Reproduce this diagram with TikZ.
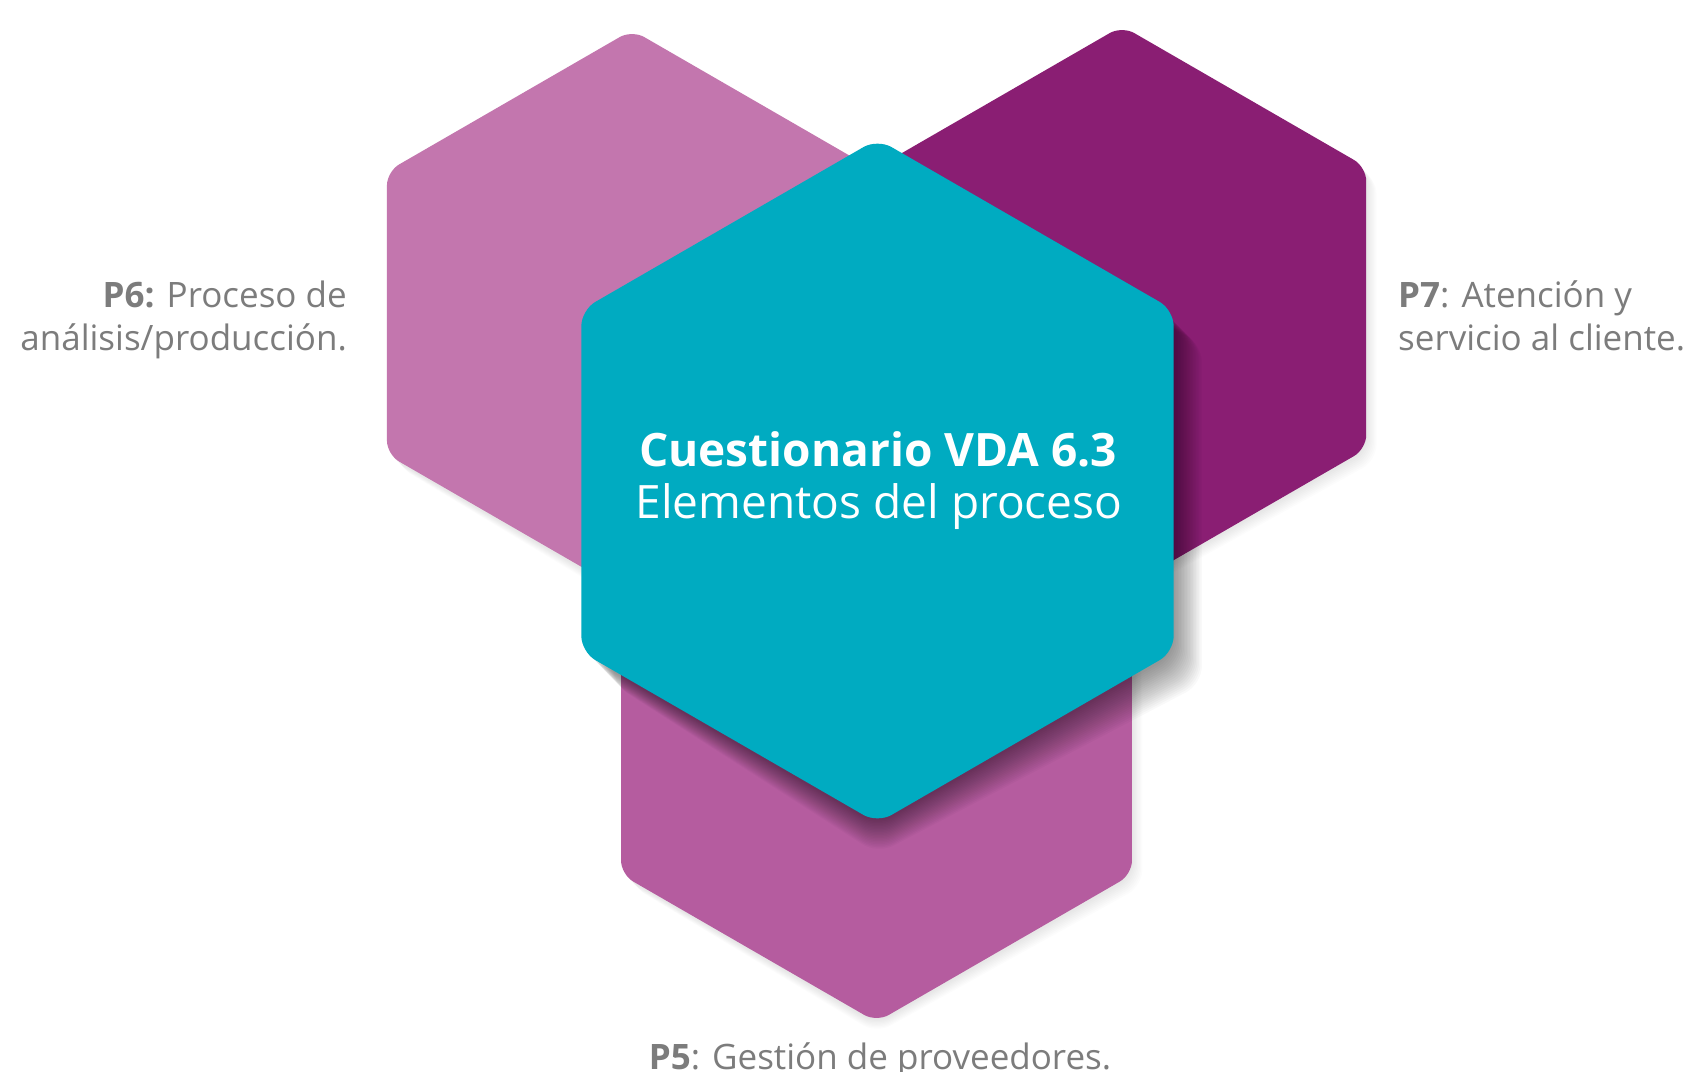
\documentclass[tikz,border=0pt]{standalone}
\usepackage{fontspec}
\setmainfont{Open Sans}
\definecolor{hexpink}{HTML}{C376AE}
\definecolor{hexpurple}{HTML}{8A1E73}
\definecolor{hexteal}{HTML}{00ABC1}
\definecolor{hexmauve}{HTML}{B55C9F}
\definecolor{labelgray}{HTML}{7C7C7C}
\newcommand{\hexpath}[3]{(#1,{#2-#3}) -- ({#1+0.8660254*#3},{#2-0.5*#3}) -- ({#1+0.8660254*#3},{#2+0.5*#3}) -- (#1,{#2+#3}) -- ({#1-0.8660254*#3},{#2+0.5*#3}) -- ({#1-0.8660254*#3},{#2-0.5*#3}) -- cycle}
\tikzset{
  sidehex/.style={rounded corners=14pt},
  sideshadow/.style={rounded corners=16pt, fill=black, opacity=0.012},
  centerhex/.style={rounded corners=16pt, fill=hexteal},
  centershadow/.style={rounded corners=18pt, fill=black, opacity=0.022},
  sidelabel/.style={inner sep=0pt, text=labelgray, font=\fontsize{35}{42}\selectfont},
  centerlabel/.style={inner sep=0pt, text=white, anchor=base}
}
\begin{document}
\begin{tikzpicture}[x=1pt, y=-1pt]
\useasboundingbox (0,0) rectangle (1684,1071);
\fill[white] (0,0) rectangle (1684,1071);
% soft shadows of the side hexagons
\foreach \k in {1,...,8}{
  \fill[sideshadow] \hexpath{632}{314}{283+1.3*\k};
  \fill[sideshadow] \hexpath{1122}{309}{282+1.3*\k};
  \fill[sideshadow] \hexpath{876.5}{728}{295+1.3*\k};
}
% side hexagons
\fill[sidehex, fill=hexpink] \hexpath{632}{313}{283};
\fill[sidehex, fill=hexpurple] \hexpath{1122}{308}{282};
\fill[sidehex, fill=hexmauve] \hexpath{876.5}{727}{295};
% shadow of the central hexagon
\foreach \k in {1,...,20}{
  \fill[centershadow] \hexpath{877.5}{484}{340+1.5*\k};
}
% central hexagon
\fill[centerhex] \hexpath{877.5}{481}{342};
% central text
\node[centerlabel, font=\fontsize{46}{55}\selectfont\bfseries] (title) at (878,466) {Cuestionario VDA 6.3};
\node[centerlabel, font=\fontsize{46}{55}\selectfont] (subtitle) at (879,518) {Elementos del proceso};
% side labels
\node[sidelabel, anchor=base east] (p6a) at (347,307) {\textbf{P6:} Proceso de};
\node[sidelabel, anchor=base east] (p6b) at (347,350) {análisis/producción.};
\node[sidelabel, anchor=base west] (p7a) at (1398,307) {\textbf{P7}: Atención y};
\node[sidelabel, anchor=base west] (p7b) at (1398,350) {servicio al cliente.};
\node[sidelabel, anchor=base] (p5) at (880,1069) {\textbf{P5}: Gestión de proveedores.};
\end{tikzpicture}
\end{document}
